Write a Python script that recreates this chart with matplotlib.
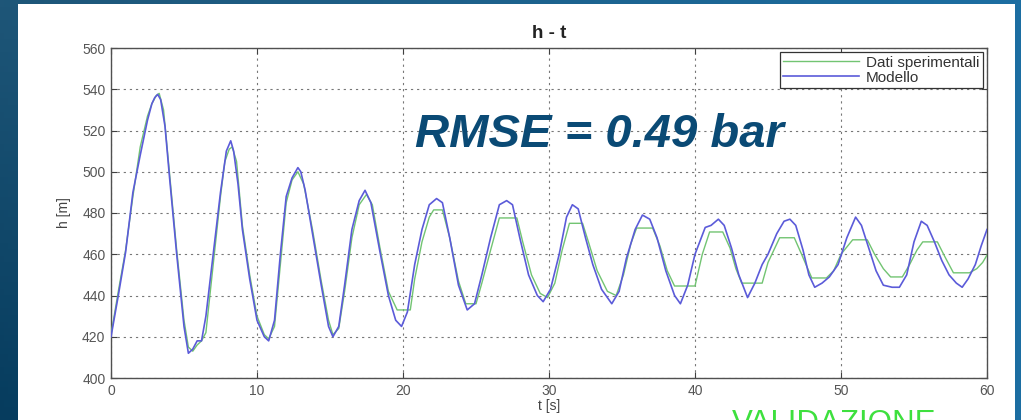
import numpy as np
import matplotlib
matplotlib.use("Agg")
import matplotlib.pyplot as plt
from matplotlib.patches import Rectangle
from matplotlib import font_manager

# ---------------- data ----------------
t_model = [0, 0.5, 1.0, 1.5, 2.0, 2.5, 2.8, 3.0, 3.2, 3.4, 3.7, 4.0, 4.5, 5.0, 5.3, 5.6, 5.9,
           6.2, 6.5, 7.0, 7.5, 7.9, 8.2, 8.4, 8.7, 9.0, 9.5, 10.0, 10.5, 10.8, 11.2, 11.6,
           12.0, 12.4, 12.8, 13.0, 13.3, 13.8, 14.4, 14.9, 15.2, 15.6, 16.0, 16.5, 17.0, 17.4,
           17.8, 18.4, 19.0, 19.5, 19.9, 20.3, 20.8, 21.3, 21.8, 22.3, 22.7, 23.2, 23.8, 24.4,
           24.9, 25.4, 26.0, 26.6, 27.1, 27.5, 28.0, 28.6, 29.2, 29.6, 30.1, 30.7, 31.2, 31.6,
           32.0, 32.5, 33.0, 33.6, 34.3, 34.8, 35.3, 35.9, 36.4, 36.9, 37.4, 38.0, 38.6, 39.0,
           39.5, 40.0, 40.7, 41.1, 41.6, 42.0, 42.5, 43.0, 43.6, 44.1, 44.6, 45.0, 45.6, 46.1,
           46.5, 46.9, 47.4, 47.8, 48.2, 48.7, 49.2, 49.8, 50.4, 51.0, 51.4, 51.9, 52.4, 52.9,
           53.5, 54.0, 54.5, 55.0, 55.5, 55.9, 56.4, 56.9, 57.4, 57.9, 58.3, 58.7, 59.2, 59.6,
           60.0]
h_model = [420, 440, 461, 490, 508, 525, 533, 536, 537.5, 535, 522, 498, 460, 425, 412, 414, 418,
           418, 430, 460, 490, 510, 515, 510, 494, 472, 448, 428, 420, 418, 428, 460,
           488, 497, 502, 500, 491, 470, 445, 425, 420, 425, 445, 472, 486, 491,
           485, 462, 440, 428, 425, 432, 455, 472, 484, 487, 485, 468, 445, 433,
           436, 450, 468, 484, 486, 484, 468, 450, 440, 437, 443, 460, 478, 484,
           482, 468, 455, 443, 436, 442, 458, 472, 479, 477, 468, 452, 440, 436,
           445, 460, 473, 474, 477, 474, 463, 450, 439, 446, 455, 460, 470, 476,
           477, 474, 462, 450, 444, 446, 449, 455, 468, 478, 474, 463, 452, 445,
           444, 444, 450, 466, 476, 474, 466, 457, 450, 446, 444, 448, 455, 464,
           472]

t_exp = [0, 0.5, 1.0, 1.5, 2.0, 2.5, 2.8, 3.1, 3.3, 3.6, 4.0, 4.5, 5.0, 5.3, 5.6, 5.9, 6.2, 6.5,
         7.0, 7.5, 7.8, 8.1, 8.3, 8.6, 9.0, 9.5, 10.0, 10.5, 10.8, 11.2, 11.6, 12.0, 12.4, 12.8,
         13.2, 13.8, 14.4, 14.9, 15.2, 15.6, 16.0, 16.5, 17.0, 17.5, 17.9, 18.4, 19.0, 19.6,
         20.5, 20.8, 21.3, 21.8, 22.1, 22.7, 23.2, 23.8, 24.3, 25.0, 25.4, 26.0, 26.6, 27.8,
         28.2, 28.8, 29.4, 29.9, 30.4, 30.9, 31.4, 32.3, 32.7, 33.3, 34.0, 34.6, 35.1, 35.6,
         36.0, 37.1, 37.6, 38.1, 38.6, 40.0, 40.5, 41.0, 41.9, 42.4, 42.8, 43.2, 44.6, 45.0,
         45.4, 45.8, 46.8, 47.3, 47.6, 48.0, 49.0, 49.5, 50.0, 50.8, 51.8, 52.3, 52.9, 53.4,
         54.2, 54.7, 55.2, 55.6, 56.6, 57.1, 57.7, 58.8, 59.3, 59.7, 60.0]
h_exp = [421, 442, 462, 488, 512, 527, 533, 537, 538, 530, 500, 462, 428, 415, 413, 416, 418, 422,
         455, 488, 505, 511, 512, 505, 474, 450, 430, 421, 419, 425, 455, 485, 496, 500,
         494, 472, 447, 428, 421, 424, 442, 468, 484, 489, 484, 464, 442, 433,
         433, 448, 466, 478, 481.5, 481.5, 468, 447, 436, 436, 446, 462, 477.6, 477.6,
         466, 450, 441, 439, 446, 462, 475, 475, 466, 452, 442, 440, 450, 465,
         472.7, 472.7, 464, 452, 444.6, 444.6, 460, 470.8, 470.8, 463, 453, 446, 446, 456,
         462, 468, 468, 460, 455, 448.5, 448.5, 452, 460, 467, 467, 460, 453, 449,
         449, 455, 462, 466, 466, 459, 451, 451, 453, 456, 459.6]

x_ticks = [0, 10, 20, 30, 40, 50, 60]
y_ticks = [400, 420, 440, 460, 480, 500, 520, 540, 560]
series_labels = ["Dati sperimentali", "Modello"]
title_text = "h - t"
xlabel_text = "t [s]"
ylabel_text = "h [m]"
rmse_text = "RMSE = 0.49 bar"
footer_text = "VALIDAZIONE"

# ---------------- figure ----------------
W, H = 1021, 420
fig = plt.figure(figsize=(W / 100, H / 100), dpi=100)

# slide background gradient
bg = fig.add_axes([0, 0, 1, 1], zorder=-10)
bg.set_axis_off()
gx = np.linspace(0, 1, 256)
gy = np.linspace(0, 1, 64)[:, None]
c_left_top = np.array([0x1e, 0x56, 0x78]) / 255
c_left_bot = np.array([0x06, 0x3c, 0x5e]) / 255
c_right = np.array([0x1c, 0x6e, 0xa2]) / 255
left_col = c_left_top * (1 - gy[..., None]) + c_left_bot * gy[..., None]
img = left_col * (1 - gx[None, :, None]) + c_right * gx[None, :, None]
bg.imshow(img, aspect="auto", extent=[0, 1, 0, 1], origin="upper")
bg.set_xlim(0, 1)
bg.set_ylim(0, 1)

# white panel
fig.patches.append(Rectangle((18 / W, 0), (1015 - 18) / W, (H - 4) / H,
                             transform=fig.transFigure, facecolor="white",
                             edgecolor="none", zorder=-5))

ax = fig.add_axes([111 / W, (H - 378) / H, (987 - 111) / W, (378 - 48) / H])
ax.set_facecolor("white")

ax.plot(t_exp, h_exp, color="#72c472", lw=1.0, label=series_labels[0], zorder=3)
ax.plot(t_model, h_model, color="#5b5bd9", lw=1.2, label=series_labels[1], zorder=4)

ax.set_xlim(0, 60)
ax.set_ylim(400, 560)
ax.set_xticks(x_ticks)
ax.set_yticks(y_ticks)
ax.grid(True, color="#777777", linestyle=(0, (2, 3.5)), linewidth=0.8)
ax.tick_params(direction="in", length=4, width=0.8, top=True, right=True,
               labelsize=10, labelcolor="#555555", colors="#404040", pad=4)
for lab in ax.get_xticklabels() + ax.get_yticklabels():
    lab.set_family("Liberation Sans")
for sp in ax.spines.values():
    sp.set_color("#505050")
    sp.set_linewidth(1.0)

ax.set_title(title_text, fontsize=13.5, fontweight="bold", family="Liberation Sans",
             color="#222222", pad=7)
ax.set_xlabel(xlabel_text, fontsize=10, family="Liberation Sans", color="#444444", labelpad=1)
ax.set_ylabel(ylabel_text, fontsize=10, family="Liberation Sans", color="#444444", labelpad=8)

leg = ax.legend(loc="upper right", bbox_to_anchor=(0.995, 0.9865),
                handlelength=5.0, handletextpad=0.45, borderpad=0.2, labelspacing=0.08,
                borderaxespad=0.0, fancybox=False, framealpha=1, edgecolor="#333333",
                prop={"family": "Liberation Sans", "size": 11})
leg.get_frame().set_linewidth(0.9)
for txt in leg.get_texts():
    txt.set_color("#333333")

# big RMSE annotation
names = {f.name for f in font_manager.fontManager.ttflist}
rmse_family = ["Liberation Sans Narrow", "Liberation Sans"] if "Liberation Sans Narrow" in names else ["Liberation Sans"]
rmse_size = 41 if "Liberation Sans Narrow" in names else 34
fig.text(415 / W, (H - 147) / H, rmse_text, family=rmse_family, fontsize=rmse_size,
         fontweight="bold", fontstyle="italic", color="#0a4a75", ha="left", va="baseline")

# footer label, partly cut by the bottom edge as in the slide screenshot
fig.text(732 / W, (H - 432) / H, footer_text, family="Liberation Sans", fontsize=22.5,
         color="#3ee03e", ha="left", va="baseline")

fig.savefig("out.png", dpi=100)
